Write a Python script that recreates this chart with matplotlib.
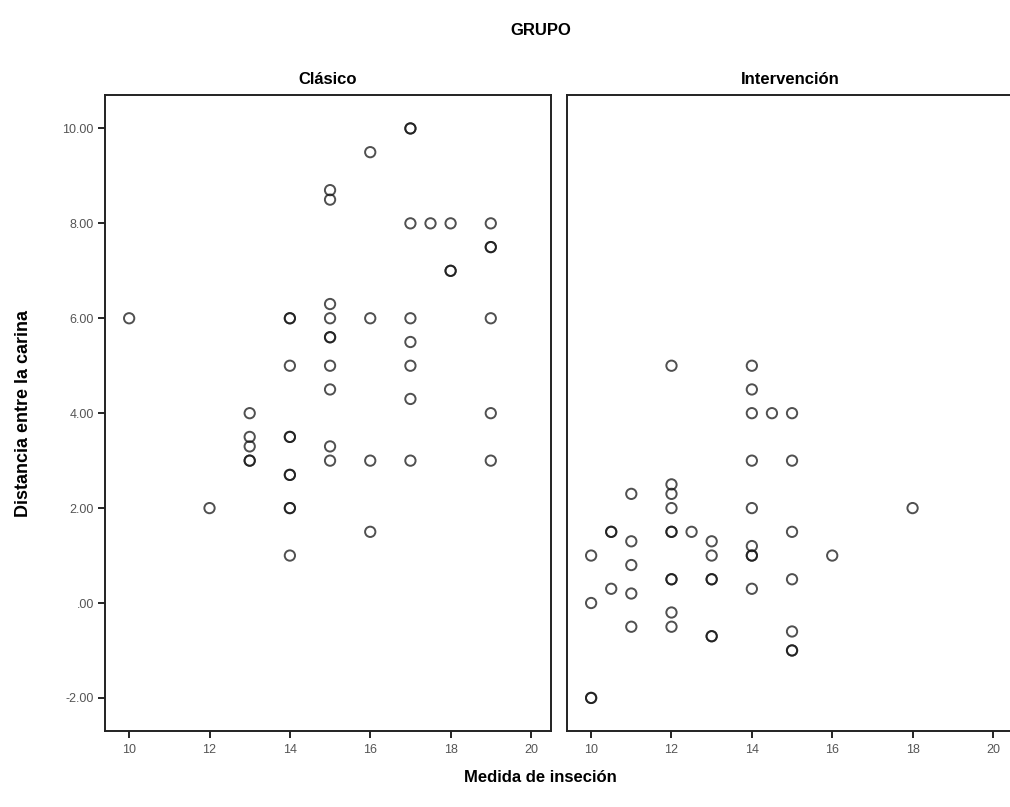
import numpy as np
import matplotlib.pyplot as plt

# Clasico group: insertion measure (x) and carina distance (y)
clasico_x = [10, 12,
             13, 13, 13, 13, 13,
             14, 14, 14, 14, 14, 14, 14, 14, 14, 14,
             15, 15, 15, 15, 15, 15, 15, 15, 15, 15,
             16, 16, 16, 16,
             17, 17, 17, 17, 17, 17, 17, 17,
             17.5,
             18, 18, 18,
             19, 19, 19, 19, 19, 19]
clasico_y = [6.0, 2.0,
             4.0, 3.5, 3.3, 3.0, 3.0,
             6.0, 6.0, 5.0, 3.5, 3.5, 2.7, 2.7, 2.0, 2.0, 1.0,
             8.7, 8.5, 6.3, 6.0, 5.6, 5.6, 5.0, 4.5, 3.3, 3.0,
             9.5, 6.0, 3.0, 1.5,
             10.0, 10.0, 8.0, 6.0, 5.5, 5.0, 4.3, 3.0,
             8.0,
             8.0, 7.0, 7.0,
             8.0, 7.5, 7.5, 6.0, 4.0, 3.0]

# Intervencion group
interv_x = [10, 10, 10, 10,
            10.5, 10.5, 10.5,
            11, 11, 11, 11, 11,
            12, 12, 12, 12, 12, 12, 12, 12, 12, 12,
            12.5,
            13, 13, 13, 13, 13, 13,
            14, 14, 14, 14, 14, 14, 14, 14, 14,
            14.5,
            15, 15, 15, 15, 15, 15, 15,
            16, 18]
interv_y = [1.0, 0.0, -2.0, -2.0,
            1.5, 1.5, 0.3,
            2.3, 1.3, 0.8, 0.2, -0.5,
            5.0, 2.5, 2.3, 2.0, 1.5, 1.5, 0.5, 0.5, -0.2, -0.5,
            1.5,
            1.3, 1.0, 0.5, 0.5, -0.7, -0.7,
            5.0, 4.5, 4.0, 3.0, 2.0, 1.2, 1.0, 1.0, 0.3,
            4.0,
            4.0, 3.0, 1.5, 0.5, -0.6, -1.0, -1.0,
            1.0, 2.0]

panel_titles = ["Clásico", "Intervención"]
x_ticks = [10, 12, 14, 16, 18, 20]
y_ticks = [-2, 0, 2, 4, 6, 8, 10]
y_labels = ["-2.00", ".00", "2.00", "4.00", "6.00", "8.00", "10.00"]

plt.rcParams["font.family"] = ["Liberation Sans", "DejaVu Sans"]

fig = plt.figure(figsize=(10.1, 8.07), dpi=100)
ax1 = fig.add_axes([0.104, 0.094, 0.4416, 0.788])
ax2 = fig.add_axes([0.5614, 0.094, 0.4416, 0.788])

for ax, xs, ys, title in [(ax1, clasico_x, clasico_y, panel_titles[0]),
                          (ax2, interv_x, interv_y, panel_titles[1])]:
    ax.scatter(xs, ys, s=55, facecolors="none", edgecolors="#151515",
               linewidths=1.4, alpha=0.75, zorder=3)
    ax.set_xlim(9.4, 20.5)
    ax.set_ylim(-2.7, 10.7)
    ax.set_xticks(x_ticks)
    ax.set_xticklabels([str(t) for t in x_ticks], fontsize=9, color="#555555")
    ax.tick_params(axis="x", direction="out", length=5, width=1.2, pad=4)
    for s in ax.spines.values():
        s.set_linewidth(1.4)
        s.set_color("#222222")
    ax.set_title(title, fontsize=12, fontweight="bold", pad=8)

ax1.set_yticks(y_ticks)
ax1.set_yticklabels(y_labels, fontsize=9, color="#555555")
ax1.tick_params(axis="y", direction="out", length=5, width=1.2, pad=3)
ax1.set_ylabel("Distancia entre la carina", fontsize=13, fontweight="bold", labelpad=22)

ax2.set_yticks([])
ax2.spines["right"].set_visible(False)

fig.text(0.535, 0.962, "GRUPO", ha="center", va="center", fontsize=12, fontweight="bold")
fig.text(0.535, 0.036, "Medida de inseción", ha="center", va="center", fontsize=12, fontweight="bold")

fig.savefig("out.png", dpi=100)
